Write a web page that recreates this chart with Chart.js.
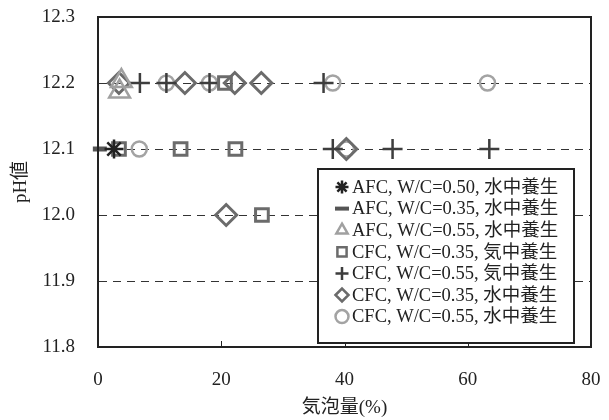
<!DOCTYPE html>
<html>
<head>
<meta charset="utf-8">
<script src="https://cdn.jsdelivr.net/npm/chart.js@4/dist/chart.umd.min.js"></script>
<style>
  html, body { margin: 0; padding: 0; background: #fff; }
  #wrap { width: 609px; height: 420px; }
</style>
</head>
<body>
<div id="wrap"><canvas id="chart" width="609" height="420"></canvas></div>
<script>
// series labels (legend order)
const seriesLabels = [
  "AFC, W/C=0.50, 水中養生",
  "AFC, W/C=0.35, 水中養生",
  "AFC, W/C=0.55, 水中養生",
  "CFC, W/C=0.35, 気中養生",
  "CFC, W/C=0.55, 気中養生",
  "CFC, W/C=0.35, 水中養生",
  "CFC, W/C=0.55, 水中養生"
];

// x = 気泡量(%), y = pH値
const afc050Water = [{ x: 2.6, y: 12.1 }];
const afc035Water = [{ x: 0.3, y: 12.1 }];
const afc055Water = [{ x: 3.5, y: 12.187 }, { x: 3.8, y: 12.203 }];
const cfc035Air = [
  { x: 3.4, y: 12.1 }, { x: 13.4, y: 12.1 }, { x: 22.3, y: 12.1 },
  { x: 20.6, y: 12.2 }, { x: 26.6, y: 12.0 }
];
const cfc055Air = [
  { x: 6.8, y: 12.2 }, { x: 11.1, y: 12.2 }, { x: 18.1, y: 12.2 }, { x: 36.6, y: 12.2 },
  { x: 38.1, y: 12.1 }, { x: 47.8, y: 12.1 }, { x: 63.5, y: 12.1 }
];
const cfc035Water = [
  { x: 3.4, y: 12.2 }, { x: 14.1, y: 12.2 }, { x: 22.2, y: 12.2 }, { x: 26.5, y: 12.2 },
  { x: 20.8, y: 12.0 }, { x: 40.3, y: 12.1 }
];
const cfc055Water = [
  { x: 6.7, y: 12.1 }, { x: 11.1, y: 12.2 }, { x: 18.1, y: 12.2 }, { x: 38.1, y: 12.2 },
  { x: 63.2, y: 12.2 }, { x: 40.3, y: 12.1 }
];

const yTicks = [11.8, 11.9, 12.0, 12.1, 12.2, 12.3];
const xTicks = [0, 20, 40, 60, 80];

const serif = "'Liberation Serif', 'Noto Sans CJK JP', serif";

function makeSet(label, data, style, color, radius, width) {
  return {
    label: label,
    data: data,
    showLine: false,
    clip: false,
    pointStyle: style,
    pointRadius: radius,
    pointHoverRadius: radius,
    pointBorderWidth: width,
    pointBorderColor: color,
    pointBackgroundColor: "rgba(0,0,0,0)"
  };
}

const datasets = [
  makeSet(seriesLabels[0], afc050Water, "star", "#222222", 9.5, 2.5),
  makeSet(seriesLabels[1], afc035Water, "line", "#555555", 7, 5),
  makeSet(seriesLabels[2], afc055Water, "triangle", "#a0a0a0", 12, 2.5),
  makeSet(seriesLabels[3], cfc035Air, "rect", "#6b6b6b", 9, 3),
  makeSet(seriesLabels[4], cfc055Air, "cross", "#3d3d3d", 10, 2.5),
  makeSet(seriesLabels[5], cfc035Water, "rectRot", "#6b6b6b", 10.5, 3),
  makeSet(seriesLabels[6], cfc055Water, "circle", "#a3a3a3", 7.5, 2.5)
];

// frame, inner x ticks and boxed legend inside the plot
const framePlugin = {
  id: "frame",
  afterDatasetsDraw(chart) {
    const ctx = chart.ctx;
    const a = chart.chartArea;
    const xs = chart.scales.x;
    ctx.save();
    ctx.strokeStyle = "#222";
    ctx.lineWidth = 2;
    ctx.strokeRect(a.left, a.top, a.right - a.left, a.bottom - a.top);
    ctx.lineWidth = 1;
    [20, 40, 60].forEach(v => {
      const px = Math.round(xs.getPixelForValue(v)) + 0.5;
      ctx.beginPath();
      ctx.moveTo(px, a.bottom);
      ctx.lineTo(px, a.bottom - 6);
      ctx.stroke();
    });

    // legend box
    const bx = a.right - 273, by = a.top + 152, bw = 256, bh = 174;
    ctx.fillStyle = "#fff";
    ctx.fillRect(bx, by, bw, bh);
    ctx.lineWidth = 2;
    ctx.strokeStyle = "#222";
    ctx.strokeRect(bx, by, bw, bh);
    ctx.font = "18.5px " + serif;
    ctx.textBaseline = "middle";
    chart.data.datasets.forEach((ds, i) => {
      const cy = by + 18 + i * 21.6;
      const mx = bx + 24;
      const isLine = ds.pointStyle === "line";
      ctx.save();
      ctx.strokeStyle = ds.pointBorderColor;
      ctx.fillStyle = "rgba(0,0,0,0)";
      ctx.lineWidth = isLine ? 4 : 2.5;
      Chart.helpers.drawPoint(ctx, {
        pointStyle: ds.pointStyle,
        radius: isLine ? 7 : 6.5,
        rotation: 0,
        borderWidth: isLine ? 4 : 2.5
      }, mx, cy);
      ctx.restore();
      ctx.fillStyle = "#222";
      ctx.fillText(ds.label, bx + 34, cy + 1);
    });
    ctx.restore();
  }
};

const chart = new Chart(document.getElementById("chart"), {
  type: "scatter",
  data: { datasets: datasets },
  plugins: [framePlugin],
  options: {
    responsive: false,
    animation: false,
    layout: { autoPadding: false, padding: { top: 17, right: 18, left: 0, bottom: 0 } },
    plugins: {
      legend: { display: false },
      tooltip: { enabled: false }
    },
    scales: {
      x: {
        type: "linear",
        min: 0,
        max: 80,
        afterBuildTicks: s => { s.ticks = xTicks.map(v => ({ value: v })); },
        // invisible tick marks push the labels away from the axis
        grid: {
          display: true,
          drawOnChartArea: false,
          drawTicks: true,
          tickLength: 22,
          tickColor: "rgba(0,0,0,0)",
          color: "rgba(0,0,0,0)"
        },
        border: { display: true, color: "#222", width: 2 },
        ticks: { color: "#222", padding: 0, font: { family: serif, size: 19 }, maxRotation: 0 },
        title: {
          display: true,
          text: "気泡量(%)",
          color: "#222",
          font: { family: serif, size: 19 },
          padding: { top: 0, bottom: 1 }
        },
        afterFit: s => { s.height = 73; }
      },
      y: {
        type: "linear",
        min: 11.8,
        max: 12.3,
        afterBuildTicks: s => { s.ticks = yTicks.map(v => ({ value: v })); },
        grid: {
          drawTicks: true,
          tickLength: 23,
          tickColor: "rgba(0,0,0,0)",
          color: c => (c.tick && (c.tick.value <= 11.8 || c.tick.value >= 12.3)) ? "rgba(0,0,0,0)" : "#333",
          lineWidth: 1
        },
        border: { display: true, color: "#222", width: 2, dash: [8, 6] },
        ticks: {
          color: "#222",
          padding: 0,
          font: { family: serif, size: 19 },
          callback: v => Number(v).toFixed(1)
        },
        title: {
          display: true,
          text: "pH値",
          color: "#222",
          font: { family: serif, size: 19 },
          padding: { top: 10, bottom: 0 }
        },
        afterFit: s => { s.width = 98; }
      }
    }
  }
});

// nudge the layout padding so the plot box lands where the reference has it
for (let k = 0; k < 3; k++) {
  const a = chart.chartArea;
  const p = chart.options.layout.padding;
  p.top = Math.max(0, p.top + (17 - a.top));
  p.right = Math.max(0, p.right + (a.right - 591));
  chart.update();
}
</script>
</body>
</html>
